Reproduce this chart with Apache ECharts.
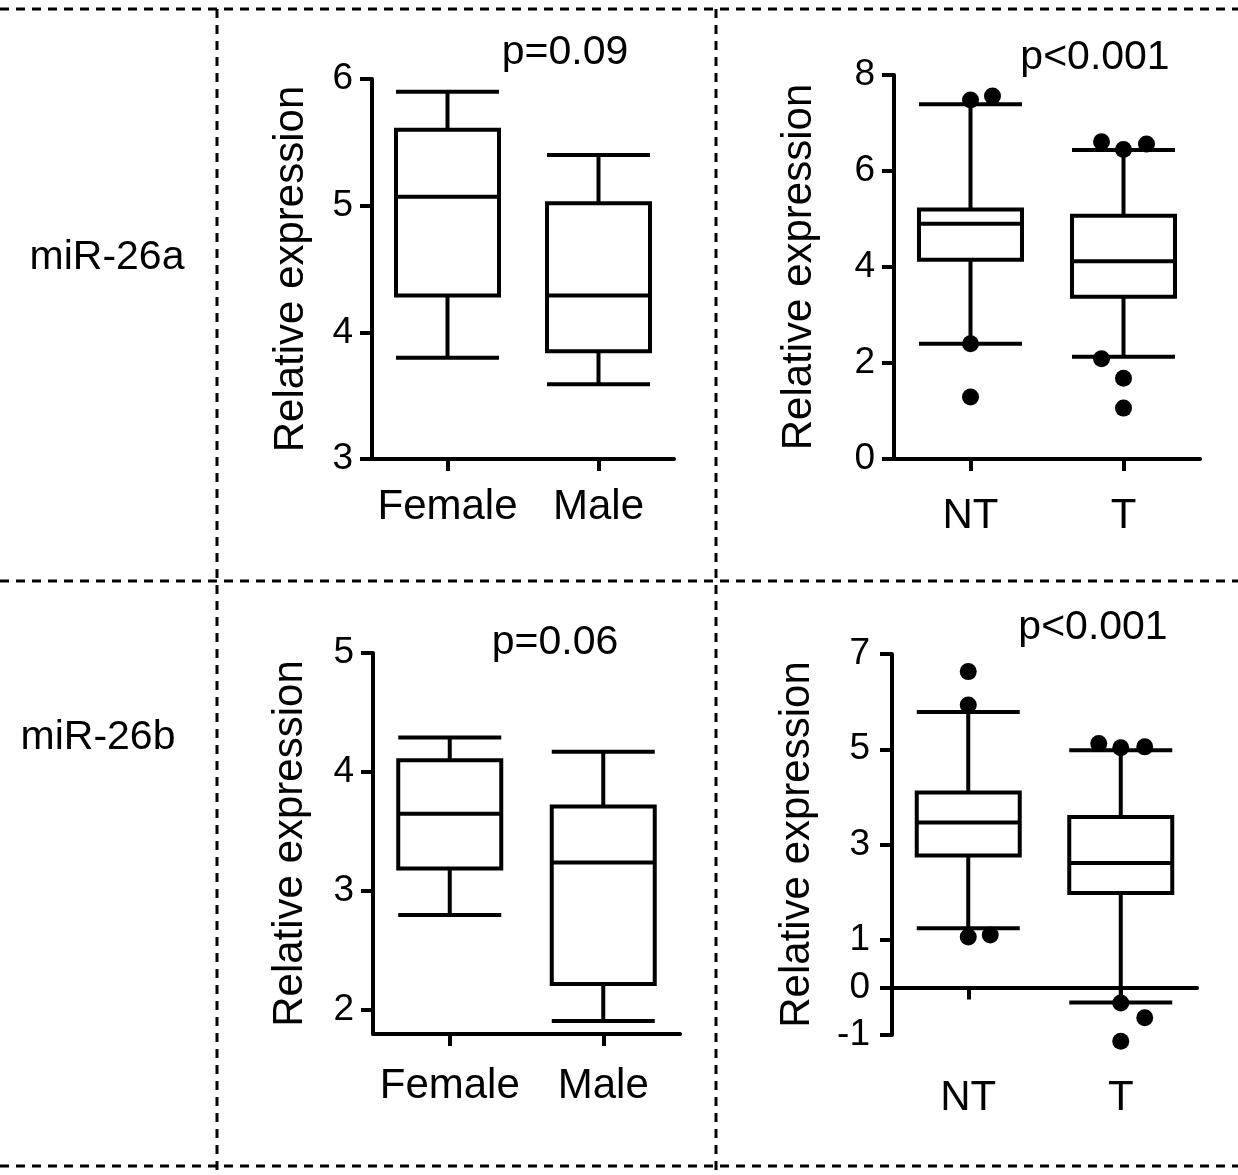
<!DOCTYPE html>
<html>
<head>
<meta charset="utf-8">
<script src="https://cdn.jsdelivr.net/npm/echarts@6/dist/echarts.min.js"></script>
<style>
  html, body { margin: 0; padding: 0; background: #fff; }
  #chart { width: 1238px; height: 1175px; }
</style>
</head>
<body>
<div id="chart"></div>
<script>
// ---------- data ----------
const sexCategories = ['Female', 'Male'];
const tissueCategories = ['NT', 'T'];
const rowLabels = ['miR-26a', 'miR-26b'];
const pValues = ['p=0.09', 'p<0.001', 'p=0.06', 'p<0.001'];
const yAxisName = 'Relative expression';

// boxplot values: [min, Q1, median, Q3, max]
const a26SexBox = [[3.80, 4.29, 5.07, 5.60, 5.90], [3.59, 3.85, 4.29, 5.02, 5.40]];
const a26TissueBox = [[2.40, 4.15, 4.90, 5.20, 7.39], [2.13, 3.38, 4.12, 5.07, 6.44]];
const a26TissueOutliers = [[0, 7.48], [0, 7.56], [1, 6.61], [1, 6.45], [1, 6.56], [0, 2.40], [0, 1.29], [1, 2.09], [1, 1.68], [1, 1.06]];
const b26SexBox = [[2.80, 3.19, 3.65, 4.10, 4.29], [1.91, 2.22, 3.24, 3.71, 4.17]];
const b26TissueBox = [[1.24, 2.77, 3.46, 4.09, 5.78], [-0.32, 1.98, 2.61, 3.58, 4.98]];
const b26TissueOutliers = [[0, 6.63], [0, 5.93], [0, 1.06], [0, 1.10], [1, 5.12], [1, 5.03], [1, 5.05], [1, -0.33], [1, -0.64], [1, -1.13]];

// y-axis ticks
const yTicksA26Sex = [3, 4, 5, 6];
const yTicksA26Tissue = [0, 2, 4, 6, 8];
const yTicksB26Sex = [2, 3, 4, 5];
const yTicksB26Tissue = [-1, 0, 1, 3, 5, 7];

// ---------- styles (horizontal jitter of outlier dots, px) ----------
const a26Jitter = [0, 22, -22, 0, 23, 0, 0, -22, 0, 0];
const b26Jitter = [0, 0, 0, 22, -22, 0, 24, 0, 24, 0];

const FONT = '"Liberation Sans", Arial, Helvetica, sans-serif';
const BLACK = '#000';
const AXW = 4;

const grids = [
  { left: 372, top: 79, width: 302, height: 380 },
  { left: 894, top: 75, width: 306, height: 384 },
  { left: 373, top: 653, width: 307, height: 381 },
  { left: 892, top: 654, width: 305, height: 381 }
];

function xAxisCfg(gridIndex, cats, margin) {
  return {
    type: 'category', gridIndex, data: cats,
    boundaryGap: true,
    axisLine: { show: true, onZero: true, lineStyle: { color: BLACK, width: AXW } },
    axisTick: { show: true, interval: 0, alignWithLabel: true, length: 12, lineStyle: { color: BLACK, width: AXW } },
    axisLabel: { show: true, interval: 0, color: BLACK, fontSize: 42, fontFamily: FONT, margin },
    splitLine: { show: false }
  };
}
function yAxisCfg(gridIndex, min, max, ticks, nameGap, labelMargin) {
  return {
    type: 'value', gridIndex, min, max,
    name: yAxisName, nameLocation: 'middle', nameGap, nameRotate: 90,
    nameTextStyle: { color: BLACK, fontSize: 42, fontFamily: FONT },
    axisLine: { show: true, onZero: false, lineStyle: { color: BLACK, width: AXW } },
    axisTick: { show: true, length: 12, customValues: ticks, lineStyle: { color: BLACK, width: AXW } },
    axisLabel: { show: true, color: BLACK, fontSize: 37, fontFamily: FONT, margin: labelMargin, customValues: ticks },
    splitLine: { show: false }
  };
}
function boxSeries(idx, data) {
  return {
    type: 'boxplot', xAxisIndex: idx, yAxisIndex: idx, data,
    boxWidth: [103, 103],
    itemStyle: { color: '#fff', borderColor: BLACK, borderWidth: 4, opacity: 1 },
    emphasis: { disabled: true }, silent: true
  };
}
function outlierSeries(idx, pts, jitter) {
  return {
    type: 'scatter', xAxisIndex: idx, yAxisIndex: idx, z: 5, clip: false,
    symbol: 'circle', symbolSize: 17,
    itemStyle: { color: BLACK, opacity: 1 },
    data: pts.map((p, i) => ({ value: p, symbolOffset: [jitter[i], 0] })),
    emphasis: { disabled: true }, silent: true
  };
}

function txt(x, y, text, size) {
  return { type: 'text', x, y, silent: true,
    style: { text, fill: BLACK, font: size + 'px ' + FONT, align: 'center', verticalAlign: 'middle' } };
}
function dashLine(x1, y1, x2, y2) {
  return { type: 'line', silent: true, shape: { x1, y1, x2, y2 },
    style: { stroke: BLACK, lineWidth: 3, lineDash: [9, 7] } };
}

const option = {
  animation: false,
  backgroundColor: '#fff',
  grid: grids,
  xAxis: [
    xAxisCfg(0, sexCategories, 27),
    xAxisCfg(1, tissueCategories, 36),
    xAxisCfg(2, sexCategories, 31),
    xAxisCfg(3, tissueCategories, 42)
  ],
  yAxis: [
    yAxisCfg(0, 3, 6, yTicksA26Sex, 60, 19),
    yAxisCfg(1, 0, 8, yTicksA26Tissue, 74, 19),
    yAxisCfg(2, 1.8, 5, yTicksB26Sex, 62, 19),
    yAxisCfg(3, -1, 7, yTicksB26Tissue, 74, 22)
  ],
  series: [
    boxSeries(0, a26SexBox),
    boxSeries(1, a26TissueBox),
    outlierSeries(1, a26TissueOutliers, a26Jitter),
    boxSeries(2, b26SexBox),
    boxSeries(3, b26TissueBox),
    outlierSeries(3, b26TissueOutliers, b26Jitter)
  ],
  graphic: [
    dashLine(0, 9, 1238, 9),
    dashLine(0, 581, 1238, 581),
    dashLine(0, 1166, 1238, 1166),
    dashLine(217, 9, 217, 1175),
    dashLine(716, 9, 716, 1175),
    txt(107, 258, rowLabels[0], 41),
    txt(98, 738, rowLabels[1], 41),
    txt(565, 53, pValues[0], 41),
    txt(1095, 58, pValues[1], 41),
    txt(555, 643, pValues[2], 41),
    txt(1093, 628, pValues[3], 41)
  ]
};

const chart = echarts.init(document.getElementById('chart'), null, { renderer: 'canvas' });
chart.setOption(option);
</script>
</body>
</html>
